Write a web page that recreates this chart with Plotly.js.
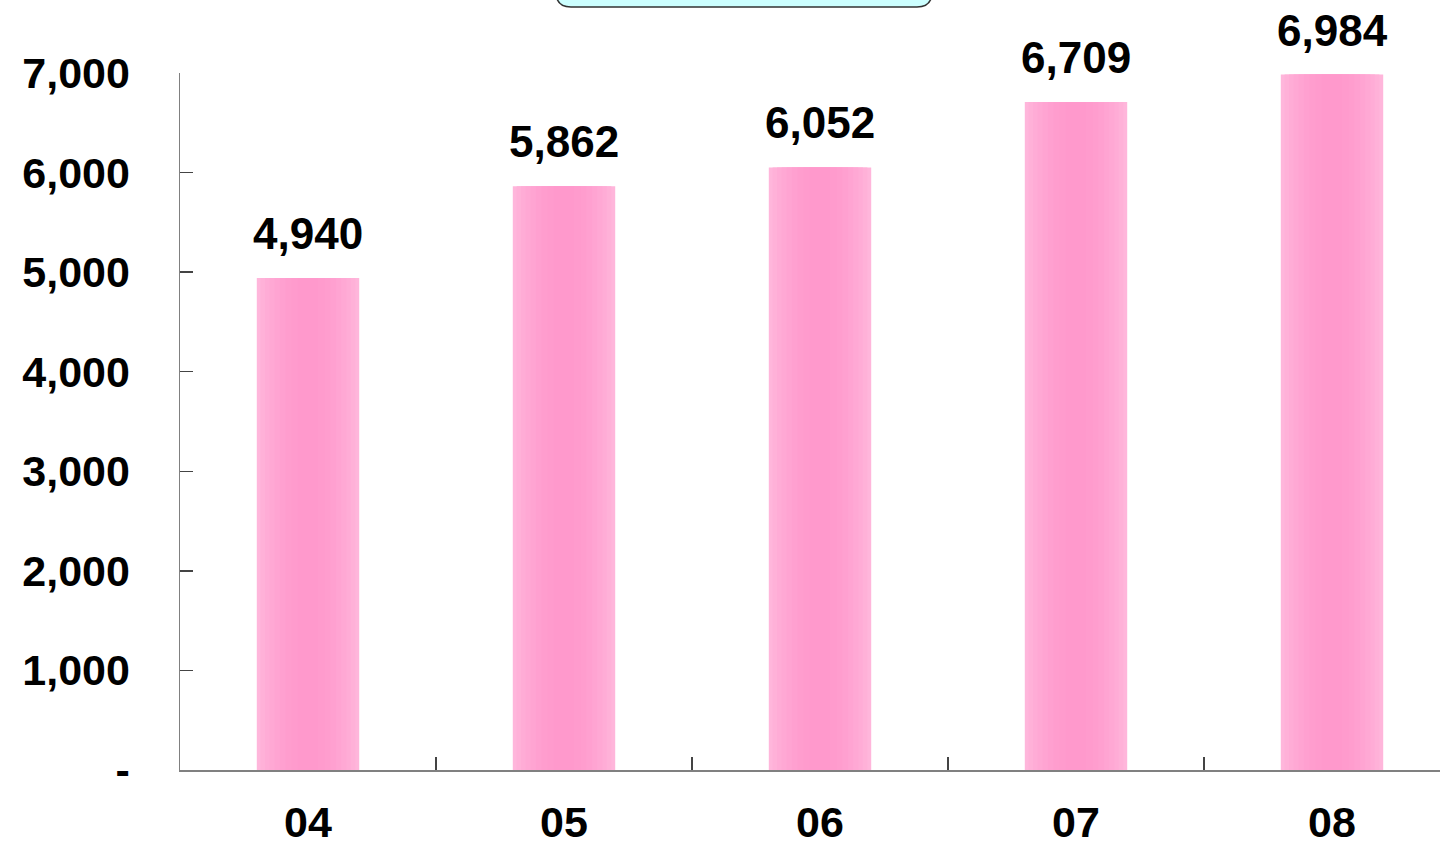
<!DOCTYPE html>
<html>
<head>
<meta charset="utf-8">
<script src="https://cdn.plot.ly/plotly-3.0.1.min.js"></script>
<style>
  html, body { margin: 0; padding: 0; background: #ffffff; }
  #chart { width: 1440px; height: 849px; }
</style>
</head>
<body>
<div id="chart"></div>
<script>
// ---- data ----
const categories = ["04", "05", "06", "07", "08"];
const values = [4940, 5862, 6052, 6709, 6984];
const yTickVals = [0, 1000, 2000, 3000, 4000, 5000, 6000, 7000];
const yTickText = ["-", "1,000", "2,000", "3,000", "4,000", "5,000", "6,000", "7,000"];

// ---- styling (horizontal gradient simulated by layered bars) ----
const layers = [
  { width: 0.400, color: "#FFB6DB" },
  { width: 0.370, color: "#FFB1D8" },
  { width: 0.335, color: "#FFACD6" },
  { width: 0.300, color: "#FFA8D4" },
  { width: 0.260, color: "#FFA4D2" },
  { width: 0.220, color: "#FFA0D0" },
  { width: 0.175, color: "#FF9DCE" },
  { width: 0.130, color: "#FF9BCD" },
  { width: 0.080, color: "#FF99CC" }
];

const FONT = "'Liberation Sans', Arial, sans-serif";

const traces = layers.map(l => ({
  type: "bar",
  x: categories,
  y: values,
  width: l.width,
  marker: { color: l.color, line: { width: 0 } },
  hoverinfo: "skip",
  showlegend: false
}));

const fmt = v => v.toLocaleString("en-US");

// x given as category index (strings like "04" would be read as numbers)
const annotations = categories.map((c, i) => ({
  x: i,
  y: values[i],
  xref: "x",
  yref: "y",
  text: fmt(values[i]),
  showarrow: false,
  yanchor: "bottom",
  yshift: 18,
  font: { family: FONT, size: 44, color: "#000000", weight: "bold" }
}));

// rounded cyan box at top (decoration)
const x0 = 0.2984, x1 = 0.5968, yb = 1.0947, ytop = 1.2;
const rx = 0.0119, ry = 0.0215;
const boxPath = `M ${x0},${ytop} L ${x0},${yb + ry} Q ${x0},${yb} ${x0 + rx},${yb} ` +
  `L ${x1 - rx},${yb} Q ${x1},${yb} ${x1},${yb + ry} L ${x1},${ytop} Z`;

const layout = {
  width: 1440,
  height: 849,
  margin: { l: 180, r: 0, t: 73, b: 79 },
  paper_bgcolor: "#ffffff",
  plot_bgcolor: "#ffffff",
  barmode: "overlay",
  showlegend: false,
  xaxis: {
    type: "category",
    range: [-0.5, 4.421875],
    showgrid: false,
    zeroline: false,
    showline: true,
    linecolor: "#808080",
    linewidth: 2,
    ticks: "inside",
    tickson: "boundaries",
    ticklen: 13,
    tickwidth: 1.5,
    tickcolor: "#444444",
    ticklabelstandoff: 13,
    tickfont: { family: FONT, size: 43, color: "#000000", weight: "bold" }
  },
  yaxis: {
    range: [0, 7000],
    tickvals: yTickVals,
    ticktext: yTickText,
    showgrid: false,
    zeroline: false,
    showline: true,
    linecolor: "#808080",
    linewidth: 1.5,
    ticks: "inside",
    ticklen: 13,
    tickwidth: 1.5,
    tickcolor: "#444444",
    ticklabelstandoff: 40,
    tickfont: { family: FONT, size: 43, color: "#000000", weight: "bold" }
  },
  annotations: annotations,
  shapes: [{
    type: "path",
    xref: "paper",
    yref: "paper",
    path: boxPath,
    fillcolor: "#CCFFFF",
    line: { color: "#333333", width: 1.5 },
    layer: "above"
  }]
};

Plotly.newPlot("chart", traces, layout, { staticPlot: true, displayModeBar: false });
</script>
</body>
</html>
